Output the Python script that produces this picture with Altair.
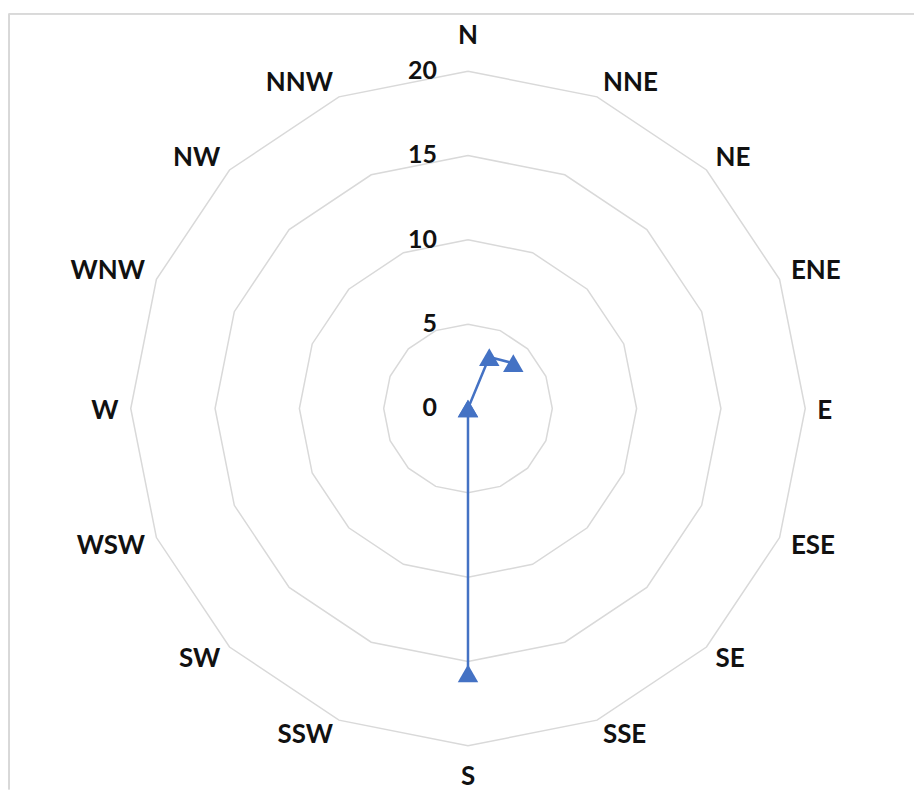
import altair as alt
import pandas as pd

directions = ["N", "NNE", "NE", "ENE", "E", "ESE", "SE", "SSE",
              "S", "SSW", "SW", "WSW", "W", "WNW", "NW", "NNW"]
values = [0, 3.3, 3.8, None, None, None, None, None,
          15.7, 0, None, None, None, None, None, None]
rings = [5, 10, 15, 20]
ticks = [0, 5, 10, 15, 20]

n = len(directions)

# series table with segment ids (gaps where value is missing)
seg = 0
rows = []
prev_missing = True
for i, (d, v) in enumerate(zip(directions, values)):
    if v is None:
        prev_missing = True
        continue
    if prev_missing:
        seg += 1
    prev_missing = False
    rows.append({"i": i, "dir": d, "v": v, "seg": seg})
series_df = pd.DataFrame(rows)

ring_df = pd.DataFrame([{"ring": r, "k": k} for r in rings for k in range(n + 1)])
label_df = pd.DataFrame({"i": list(range(n)), "dir": directions})
tick_df = pd.DataFrame({"t": ticks})

LABEL_R = 20.6
XD = [-27.22, 26.45]
YD = [-22.57, 23.40]

xs = alt.Scale(domain=XD, nice=False, zero=False)
ys = alt.Scale(domain=YD, nice=False, zero=False)

def xy():
    return dict(x=alt.X("px:Q", scale=xs, axis=None),
                y=alt.Y("py:Q", scale=ys, axis=None))

ring_layer = alt.Chart(ring_df).transform_calculate(
    th=f"datum.k * 2 * PI / {n}"
).transform_calculate(
    px="datum.ring * sin(datum.th)", py="datum.ring * cos(datum.th)"
).mark_line(color="#d9d9d9", strokeWidth=1.5).encode(
    detail="ring:N", order=alt.Order("k:Q"), **xy()
)

series_base = alt.Chart(series_df).transform_calculate(
    th=f"datum.i * 2 * PI / {n}"
).transform_calculate(
    px="datum.v * sin(datum.th)", py="datum.v * cos(datum.th)"
)

line_layer = series_base.mark_line(color="#4472C4", strokeWidth=2.5).encode(
    detail="seg:N", order=alt.Order("i:Q"), **xy()
)
point_layer = series_base.mark_point(
    shape="triangle-up", filled=True, size=420, color="#4472C4", opacity=1
).encode(**xy())

label_base = alt.Chart(label_df).transform_calculate(
    th=f"datum.i * 2 * PI / {n}"
).transform_calculate(
    px=f"{LABEL_R} * sin(datum.th)",
    py=(f"{LABEL_R} * cos(datum.th) + (datum.i == 0 ? 1.48 : datum.i == 8 ? -1.25 : "
        "cos(datum.th) > 0.01 ? 0.26 : cos(datum.th) < -0.01 ? -0.3 : -0.15)"),
)

text_style = dict(font="Lato", fontWeight="bold", fontSize=26, color="#111111",
                  baseline="middle")

label_right = label_base.transform_filter("datum.i > 0 && datum.i < 8").mark_text(
    align="left", dx=2, **text_style
).encode(text="dir:N", **xy())
label_left = label_base.transform_filter("datum.i > 8").mark_text(
    align="right", dx=-2, **text_style
).encode(text="dir:N", **xy())
label_mid = label_base.transform_filter("datum.i == 0 || datum.i == 8").mark_text(
    align="center", **text_style
).encode(text="dir:N", **xy())

tick_layer = alt.Chart(tick_df).transform_calculate(
    px="0", py="datum.t"
).mark_text(
    font="Lato", fontWeight="bold", fontSize=25, color="#111111",
    align="right", baseline="middle", dx=-31
).encode(text="t:Q", **xy())

border_top = alt.Chart(tick_df).mark_rule(color="#d9d9d9", strokeWidth=1.5).encode(
    x=alt.value(0), x2=alt.value(907), y=alt.value(0)
)
border_left = alt.Chart(tick_df).mark_rule(color="#d9d9d9", strokeWidth=1.5).encode(
    x=alt.value(0), y=alt.value(0), y2=alt.value(777)
)

chart = alt.layer(
    border_top, border_left, ring_layer, line_layer, point_layer,
    label_right, label_left, label_mid, tick_layer
).properties(
    width=907, height=777,
    padding={"left": 0, "top": 4, "right": 0, "bottom": 0},
    background="white",
).configure_view(stroke=None)

chart.save("out.html", embed_options={"renderer": "svg", "actions": False})
